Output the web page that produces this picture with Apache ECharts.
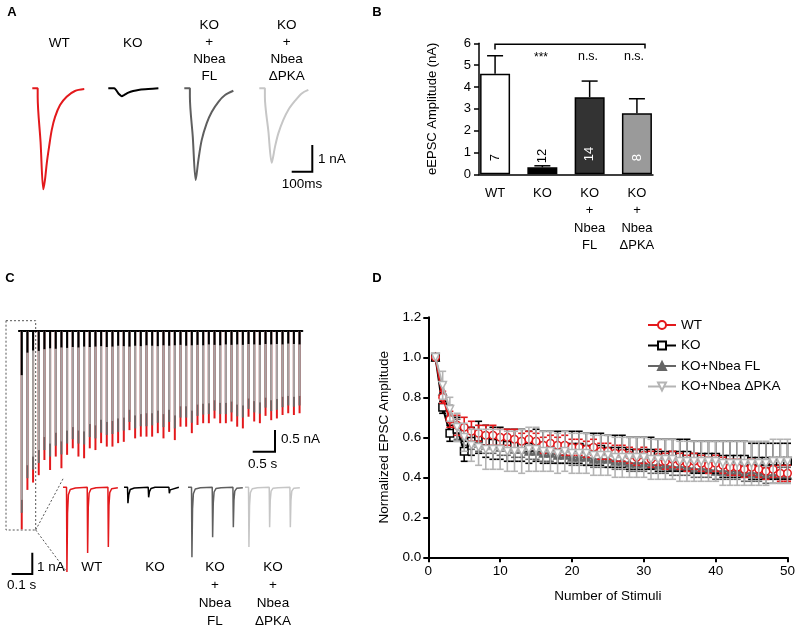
<!DOCTYPE html>
<html><head><meta charset="utf-8">
<script src="https://cdn.jsdelivr.net/npm/echarts@6/dist/echarts.min.js"></script>
<style>html,body{margin:0;padding:0;background:#fff}#c{width:798px;height:628px}</style>
</head><body><div id="c"></div>
<script>
const FONT = '"Liberation Sans", Arial, Helvetica, sans-serif';
const RED = '#e3191c', BLACK = '#000000', DARK = '#666666', LIGHT = '#bdbdbd';

// ---------- Panel A: averaged eEPSC traces [time (ms), current (nA)] ----------
const traceA_WT = [[0,0],[26,0],[26,-0.31],[40,-2.0],[53,-3.74],[61,-3.40],[70,-2.77],[81,-2.17],[94,-1.54],[110,-1.06],[134,-0.62],[166,-0.31],[206,-0.10],[251,-0.03]];
const traceA_KO = [[0,0],[29,0],[37,-0.06],[50,-0.2],[65,-0.29],[76,-0.25],[97,-0.16],[120,-0.1],[145,-0.06],[193,-0.03],[242,0]];
const traceA_FL = [[0,0],[27,0],[27,-0.31],[41,-1.8],[55,-3.40],[68,-2.66],[84,-1.92],[108,-1.30],[133,-0.87],[165,-0.50],[197,-0.25],[237,-0.09]];
const traceA_dPKA = [[0,0],[27,0],[27,-0.31],[44,-1.6],[60,-2.76],[76,-2.16],[92,-1.67],[116,-1.17],[140,-0.80],[173,-0.46],[205,-0.19],[237,-0.06]];

// ---------- Panel B: eEPSC amplitude ----------
const groupsB = ['WT', 'KO', 'KO\n+\nNbea\nFL', 'KO\n+\nNbea\nΔPKA'];
const meanB = [4.60, 0.32, 3.53, 2.80];
const semB = [0.83, 0.07, 0.74, 0.66];
const nB = [7, 12, 14, 8];
const barColorsB = ['#ffffff', '#000000', '#333333', '#9a9a9a'];

// ---------- Panel C: train response, peak amplitude per stimulus (nA) ----------
const stimuli = [1,2,3,4,5,6,7,8,9,10,11,12,13,14,15,16,17,18,19,20,21,22,23,24,25,26,27,28,29,30,31,32,33,34,35,36,37,38,39,40,41,42,43,44,45,46,47,48,49,50];
const ampC_WT = [4.58,3.67,3.50,3.33,2.98,3.21,2.90,3.17,2.86,2.71,2.90,2.94,2.71,2.75,2.59,2.67,2.67,2.59,2.56,2.29,2.48,2.44,2.44,2.44,2.36,2.48,2.33,2.52,2.21,2.21,2.36,2.17,2.13,2.13,2.02,2.13,2.13,2.09,2.21,2.25,1.98,2.09,2.13,1.96,2.06,2.02,1.94,1.90,1.94,1.90];
const ampC_FL = [4.20,3.40,3.20,3.05,2.75,2.90,2.65,2.85,2.60,2.50,2.60,2.62,2.45,2.48,2.35,2.40,2.38,2.33,2.30,2.10,2.25,2.20,2.20,2.18,2.12,2.22,2.10,2.25,2.00,2.00,2.12,1.96,1.93,1.92,1.84,1.92,1.92,1.88,1.97,2.00,1.80,1.88,1.91,1.77,1.85,1.82,1.76,1.72,1.75,1.72];
const ampC_dPKA = [3.90,3.10,2.90,2.75,2.45,2.60,2.35,2.55,2.30,2.22,2.30,2.32,2.15,2.18,2.05,2.10,2.08,2.02,2.00,1.82,1.95,1.92,1.90,1.90,1.84,1.92,1.82,1.95,1.74,1.74,1.84,1.70,1.68,1.67,1.60,1.66,1.66,1.63,1.70,1.72,1.56,1.62,1.65,1.54,1.60,1.57,1.52,1.50,1.52,1.50];
const ampC_KO = [1.02,0.50,0.45,0.46,0.42,0.40,0.41,0.38,0.39,0.37,0.38,0.36,0.37,0.36,0.35,0.37,0.36,0.34,0.35,0.36,0.34,0.35,0.33,0.34,0.35,0.33,0.34,0.33,0.32,0.34,0.33,0.32,0.33,0.31,0.32,0.33,0.31,0.32,0.31,0.32,0.30,0.31,0.32,0.30,0.31,0.30,0.31,0.29,0.30,0.31];

// Panel C inset: first three responses [time (ms), current (nA)]
const insetC_WT = [[0,0],[17,0],[19,-3.98],[22,-1.2],[26,-0.35],[35,-0.1],[60,-0.03],[117,0],[119,-3.08],[122,-0.95],[126,-0.28],[135,-0.08],[160,-0.02],[217,0],[219,-2.80],[222,-0.85],[226,-0.25],[235,-0.07],[265,-0.02]];
const insetC_KO = [[0,0],[17,0],[19,-0.75],[23,-0.35],[30,-0.1],[50,-0.03],[117,0],[119,-0.47],[123,-0.2],[130,-0.06],[150,0],[217,0],[219,-0.28],[223,-0.12],[230,-0.04],[265,0]];
const insetC_FL = [[0,0],[17,0],[19,-3.28],[22,-1.0],[26,-0.3],[35,-0.08],[60,-0.02],[117,0],[119,-2.35],[122,-0.75],[126,-0.22],[135,-0.06],[160,-0.02],[217,0],[219,-1.88],[222,-0.6],[226,-0.18],[235,-0.05],[265,-0.02]];
const insetC_dPKA = [[0,0],[17,0],[19,-2.80],[22,-0.85],[26,-0.25],[35,-0.07],[60,-0.02],[117,0],[119,-1.88],[122,-0.6],[126,-0.18],[135,-0.05],[160,-0.02],[217,0],[219,-1.88],[222,-0.6],[226,-0.18],[235,-0.05],[265,-0.02]];

// ---------- Panel D: normalized EPSC amplitude (mean, SEM) ----------
const D_WT = [1.00,0.80,0.69,0.66,0.65,0.63,0.62,0.61,0.61,0.60,0.60,0.59,0.58,0.59,0.58,0.56,0.57,0.56,0.56,0.55,0.55,0.54,0.55,0.53,0.53,0.52,0.52,0.51,0.50,0.51,0.49,0.50,0.48,0.49,0.48,0.47,0.48,0.47,0.46,0.47,0.46,0.45,0.45,0.44,0.45,0.44,0.43,0.44,0.42,0.42];
const D_WT_err = [0.00,0.03,0.04,0.05,0.05,0.05,0.04,0.05,0.05,0.04,0.04,0.05,0.04,0.04,0.04,0.04,0.04,0.04,0.05,0.04,0.04,0.04,0.04,0.04,0.04,0.04,0.04,0.04,0.04,0.04,0.04,0.04,0.04,0.04,0.04,0.04,0.04,0.04,0.04,0.04,0.04,0.04,0.04,0.04,0.04,0.04,0.04,0.04,0.04,0.04];
const D_KO = [1.00,0.75,0.62,0.64,0.53,0.58,0.60,0.58,0.57,0.57,0.56,0.56,0.56,0.55,0.56,0.55,0.55,0.55,0.55,0.55,0.55,0.54,0.54,0.54,0.53,0.53,0.53,0.52,0.52,0.52,0.52,0.51,0.51,0.51,0.51,0.51,0.50,0.50,0.50,0.50,0.49,0.49,0.49,0.49,0.48,0.48,0.48,0.48,0.48,0.48];
const D_KO_err = [0.00,0.03,0.04,0.06,0.05,0.07,0.08,0.08,0.08,0.08,0.08,0.08,0.08,0.08,0.08,0.08,0.08,0.08,0.08,0.08,0.08,0.08,0.08,0.08,0.08,0.08,0.08,0.08,0.08,0.08,0.08,0.08,0.08,0.08,0.08,0.08,0.08,0.08,0.08,0.08,0.09,0.09,0.09,0.09,0.09,0.09,0.09,0.09,0.09,0.09];
const D_FL = [1.00,0.83,0.72,0.64,0.60,0.58,0.57,0.56,0.56,0.55,0.55,0.54,0.54,0.53,0.53,0.52,0.52,0.51,0.51,0.50,0.50,0.50,0.49,0.49,0.49,0.48,0.48,0.47,0.47,0.47,0.46,0.46,0.46,0.45,0.45,0.45,0.44,0.44,0.44,0.43,0.43,0.43,0.43,0.42,0.42,0.42,0.41,0.41,0.41,0.41];
const D_FL_err = [0.00,0.04,0.04,0.05,0.04,0.04,0.04,0.04,0.04,0.04,0.04,0.04,0.04,0.04,0.04,0.04,0.04,0.04,0.04,0.04,0.04,0.04,0.04,0.04,0.04,0.04,0.04,0.04,0.04,0.04,0.04,0.04,0.04,0.04,0.04,0.04,0.04,0.04,0.04,0.04,0.04,0.04,0.04,0.04,0.04,0.04,0.04,0.04,0.04,0.04];
const D_dPKA = [1.00,0.86,0.74,0.65,0.60,0.56,0.55,0.54,0.54,0.54,0.53,0.53,0.53,0.54,0.54,0.53,0.53,0.52,0.53,0.52,0.52,0.52,0.51,0.51,0.51,0.50,0.50,0.50,0.50,0.50,0.49,0.49,0.49,0.49,0.48,0.48,0.48,0.48,0.48,0.48,0.47,0.47,0.47,0.47,0.47,0.47,0.47,0.48,0.48,0.48];
const D_dPKA_err = [0.00,0.07,0.06,0.07,0.07,0.08,0.09,0.10,0.10,0.10,0.10,0.10,0.11,0.11,0.11,0.10,0.10,0.10,0.10,0.10,0.10,0.10,0.10,0.10,0.10,0.10,0.10,0.10,0.10,0.10,0.10,0.10,0.10,0.10,0.10,0.10,0.10,0.10,0.10,0.10,0.11,0.11,0.11,0.11,0.11,0.11,0.11,0.11,0.11,0.11];
const legendD = ['WT', 'KO', 'KO+Nbea FL', 'KO+Nbea ΔPKA'];

// ================= layout =================
const chart = echarts.init(document.getElementById('c'), null, {renderer: 'canvas'});
const grids = [], xAxes = [], yAxes = [], series = [];
function addGrid(g, xa, ya) { grids.push(g); xAxes.push(Object.assign({gridIndex: grids.length-1}, xa)); yAxes.push(Object.assign({gridIndex: grids.length-1}, ya)); return grids.length-1; }
const hiddenAxis = (min, max) => ({type: 'value', min, max, show: false});

// Panel A grids (100 ms = 20.7 px, 1 nA = 27 px)
const aStarts = [32.3, 108.3, 184.3, 259.3];
const aTraces = [traceA_WT, traceA_KO, traceA_FL, traceA_dPKA];
const aColors = [RED, BLACK, '#5f5f5f', '#c6c6c6'];
aTraces.forEach((tr, i) => {
  const gi = addGrid({left: aStarts[i], top: 80.2, width: 255*0.207, height: 4.3*27}, hiddenAxis(0, 255), hiddenAxis(-4, 0.3));
  series.push({type: 'line', xAxisIndex: gi, yAxisIndex: gi, data: tr, showSymbol: false, smooth: 0.3, lineStyle: {color: aColors[i], width: 2}, animation: false});
});

// Panel B grid
const gB = addGrid({left: 479, top: 43.3, width: 174, height: 131},
  {type: 'value', min: 0.66, max: 4.34, axisLine: {lineStyle: {color: '#000', width: 1.5}}, axisTick: {show: false}, splitLine: {show: false},
   axisLabel: {customValues: [1,2,3,4], formatter: v => groupsB[Math.round(v)-1], color: '#000', fontSize: 13, fontFamily: FONT, lineHeight: 17.5, margin: 10}},
  {type: 'value', min: 0, max: 6, interval: 1, name: 'eEPSC Amplitude (nA)', nameLocation: 'middle', nameGap: 40, nameTextStyle: {fontSize: 13, fontFamily: FONT, color: '#000'},
   axisLine: {show: true, lineStyle: {color: '#000', width: 1.5}}, axisTick: {show: true, length: 5, lineStyle: {color: '#000', width: 1.5}}, splitLine: {show: false},
   axisLabel: {color: '#000', fontSize: 13, fontFamily: FONT, margin: 8}});
series.push({type: 'bar', xAxisIndex: gB, yAxisIndex: gB, barWidth: 30, animation: false,
  data: meanB.map((v, i) => ({value: [i+1, v], itemStyle: {color: barColorsB[i], borderColor: '#000', borderWidth: 1.5},
    label: {show: true, formatter: String(nB[i]), rotate: 90, position: i === 1 ? 'top' : 'insideBottom', distance: i === 1 ? 4 : 13,
      color: (i >= 2) ? '#fff' : '#000', fontSize: 13, fontFamily: FONT, align: 'left', verticalAlign: 'middle'}}))});
series.push({type: 'custom', xAxisIndex: gB, yAxisIndex: gB, animation: false, data: meanB.map((v, i) => [i+1, v, v + semB[i]]),
  renderItem: (params, api) => {
    const p1 = api.coord([api.value(0), api.value(1)]), p2 = api.coord([api.value(0), api.value(2)]);
    return {type: 'group', children: [
      {type: 'line', shape: {x1: p1[0], y1: p1[1], x2: p2[0], y2: p2[1]}, style: {stroke: '#000', lineWidth: 1.5}},
      {type: 'line', shape: {x1: p2[0]-8, y1: p2[1], x2: p2[0]+8, y2: p2[1]}, style: {stroke: '#000', lineWidth: 1.5}}]};
  }});

// Panel C main train (1 nA = 43.3 px)
const gC = addGrid({left: 18.9, top: 318, width: 283.5, height: 5.0*43.3},
  {type: 'category', data: stimuli, boundaryGap: true, axisLine: {show: true, onZero: true, lineStyle: {color: '#000', width: 2}}, axisTick: {show: false}, axisLabel: {show: false}},
  {type: 'value', min: -4.7, max: 0.3, show: false});
[[ampC_WT, RED, 1], [ampC_FL, '#6a6a6a', 1], [ampC_dPKA, '#aca6a6', 0.95], [ampC_KO, '#000', 1]].forEach(([arr, col, op], k) => {
  series.push({type: 'bar', xAxisIndex: gC, yAxisIndex: gC, data: arr.map(v => -v), barWidth: 2, barGap: '-100%', itemStyle: {color: col, opacity: op}, animation: false, z: 2 + k});
});

// Panel C inset (1 nA = 21.3 px, 100 ms = 20.7 px)
const cStarts = [63, 124, 188, 245];
const cTraces = [insetC_WT, insetC_KO, insetC_FL, insetC_dPKA];
cTraces.forEach((tr, i) => {
  const gi = addGrid({left: cStarts[i], top: 487.3 - 0.2*21.3, width: 265*0.207, height: 4.4*21.3}, hiddenAxis(0, 265), hiddenAxis(-4.2, 0.2));
  series.push({type: 'line', xAxisIndex: gi, yAxisIndex: gi, data: tr, showSymbol: false, lineStyle: {color: aColors[i], width: 1.5}, animation: false});
});

// Panel D
const gD = addGrid({left: 428.3, top: 317.3, width: 359.4, height: 240},
  {type: 'value', min: 0, max: 50, interval: 10, name: 'Number of Stimuli', nameLocation: 'middle', nameGap: 32, nameTextStyle: {fontSize: 13.5, fontFamily: FONT, color: '#000'},
   axisLine: {lineStyle: {color: '#000', width: 2}}, axisTick: {length: 5, lineStyle: {color: '#000', width: 2}}, splitLine: {show: false},
   axisLabel: {color: '#000', fontSize: 13.5, fontFamily: FONT, margin: 7}},
  {type: 'value', min: 0, max: 1.2, interval: 0.2, name: 'Normalized EPSC Amplitude', nameLocation: 'middle', nameGap: 37, nameTextStyle: {fontSize: 13.5, fontFamily: FONT, color: '#000'},
   axisLine: {show: true, lineStyle: {color: '#000', width: 2}}, axisTick: {show: true, length: 5, lineStyle: {color: '#000', width: 2}}, splitLine: {show: false},
   axisLabel: {color: '#000', fontSize: 13.5, fontFamily: FONT, margin: 7, formatter: v => v.toFixed(1)}});
function errRender(color) {
  return (params, api) => {
    const x = api.value(0);
    const p1 = api.coord([x, api.value(1)]), p2 = api.coord([x, api.value(2)]);
    const st = {stroke: color, lineWidth: 1.6};
    return {type: 'group', children: [
      {type: 'line', shape: {x1: p1[0], y1: p1[1], x2: p2[0], y2: p2[1]}, style: st},
      {type: 'line', shape: {x1: p1[0]-3.5, y1: p1[1], x2: p1[0]+3.5, y2: p1[1]}, style: st},
      {type: 'line', shape: {x1: p2[0]-3.5, y1: p2[1], x2: p2[0]+3.5, y2: p2[1]}, style: st}]};
  };
}
// [mean, err, colour, symbol, rotate, fill, z-order]
const dSets = [
  [D_WT, D_WT_err, RED, 'circle', 0, '#fff', 3],
  [D_KO, D_KO_err, '#000', 'rect', 0, '#fff', 2],
  [D_FL, D_FL_err, '#666666', 'triangle', 0, '#666666', 1],
  [D_dPKA, D_dPKA_err, '#b4b4b4', 'triangle', 180, '#fff', 4]];
dSets.forEach(([m, e, col, sym, rot, fill, zo], k) => {
  series.push({type: 'custom', xAxisIndex: gD, yAxisIndex: gD, animation: false, z: 2*zo, renderItem: errRender(col),
    encode: {x: 0, y: [1, 2]}, data: m.map((v, i) => [stimuli[i], v - e[i], v + e[i]])});
  series.push({type: 'line', name: legendD[k], xAxisIndex: gD, yAxisIndex: gD, animation: false, z: 2*zo + 1,
    data: m.map((v, i) => [stimuli[i], v]), symbol: sym, symbolRotate: rot, symbolSize: 7.5, showSymbol: true,
    lineStyle: {color: col, width: 2}, itemStyle: {color: fill, borderColor: col, borderWidth: 1.5}});
});

// ---------- annotations ----------
const txt = (text, x, y, o = {}) => ({type: 'text', x, y, silent: true, style: Object.assign({text, fill: '#000', fontSize: 13.5, fontFamily: FONT, align: 'center', verticalAlign: 'middle'}, o)});
const poly = (points, o = {}) => ({type: 'polyline', silent: true, shape: {points}, style: Object.assign({stroke: '#000', lineWidth: 2, fill: null}, o)});
const graphic = [
  txt('A', 12, 12, {fontWeight: 'bold', fontSize: 13}),
  txt('B', 377, 12, {fontWeight: 'bold', fontSize: 13}),
  txt('C', 10, 278, {fontWeight: 'bold', fontSize: 13}),
  txt('D', 377, 278, {fontWeight: 'bold', fontSize: 13}),
  // Panel A labels
  txt('WT', 59.3, 43), txt('KO', 132.7, 43),
  txt('KO\n+\nNbea\nFL', 209.3, 16.5, {verticalAlign: 'top', lineHeight: 17}),
  txt('KO\n+\nNbea\nΔPKA', 286.7, 16.5, {verticalAlign: 'top', lineHeight: 17}),
  poly([[291.7, 171.7], [312.3, 171.7], [312.3, 145]]),
  txt('1 nA', 318, 159, {align: 'left'}), txt('100ms', 302, 184),
  // Panel B annotations
  poly([[495, 49.5], [495, 44.3], [645, 44.3], [645, 48.5]], {lineWidth: 1.5}),
  txt('***', 541, 58, {fontSize: 12}), txt('n.s.', 588, 57, {fontSize: 12.5}), txt('n.s.', 634, 57, {fontSize: 12.5}),
  // Panel C annotations
  {type: 'rect', silent: true, shape: {x: 6, y: 320.7, width: 29.7, height: 209.3}, style: {fill: null, stroke: '#555', lineWidth: 1, lineDash: [2, 2]}},
  poly([[35.7, 530], [63.3, 478.3]], {stroke: '#555', lineWidth: 1, lineDash: [2, 2]}),
  poly([[35.7, 530], [66.7, 571.7]], {stroke: '#555', lineWidth: 1, lineDash: [2, 2]}),
  poly([[252.7, 451.7], [275, 451.7], [275, 430]]),
  txt('0.5 nA', 281, 439, {align: 'left'}), txt('0.5 s', 262.7, 464),
  poly([[11.7, 574], [32.3, 574], [32.3, 552.7]]),
  txt('1 nA', 37, 567, {align: 'left'}), txt('0.1 s', 21.7, 585),
  txt('WT', 91.7, 567), txt('KO', 155, 567),
  txt('KO\n+\nNbea\nFL', 215, 558, {verticalAlign: 'top', lineHeight: 18}),
  txt('KO\n+\nNbea\nΔPKA', 273, 558, {verticalAlign: 'top', lineHeight: 18})
];

chart.setOption({
  animation: false,
  backgroundColor: '#fff',
  textStyle: {fontFamily: FONT},
  grid: grids, xAxis: xAxes, yAxis: yAxes, series,
  legend: {data: legendD, orient: 'vertical', left: 647, top: 318, padding: 0, itemWidth: 28, itemHeight: 10, itemGap: 6.5,
    textStyle: {fontSize: 13.5, fontFamily: FONT, color: '#000'}},
  graphic
});
</script></body></html>
